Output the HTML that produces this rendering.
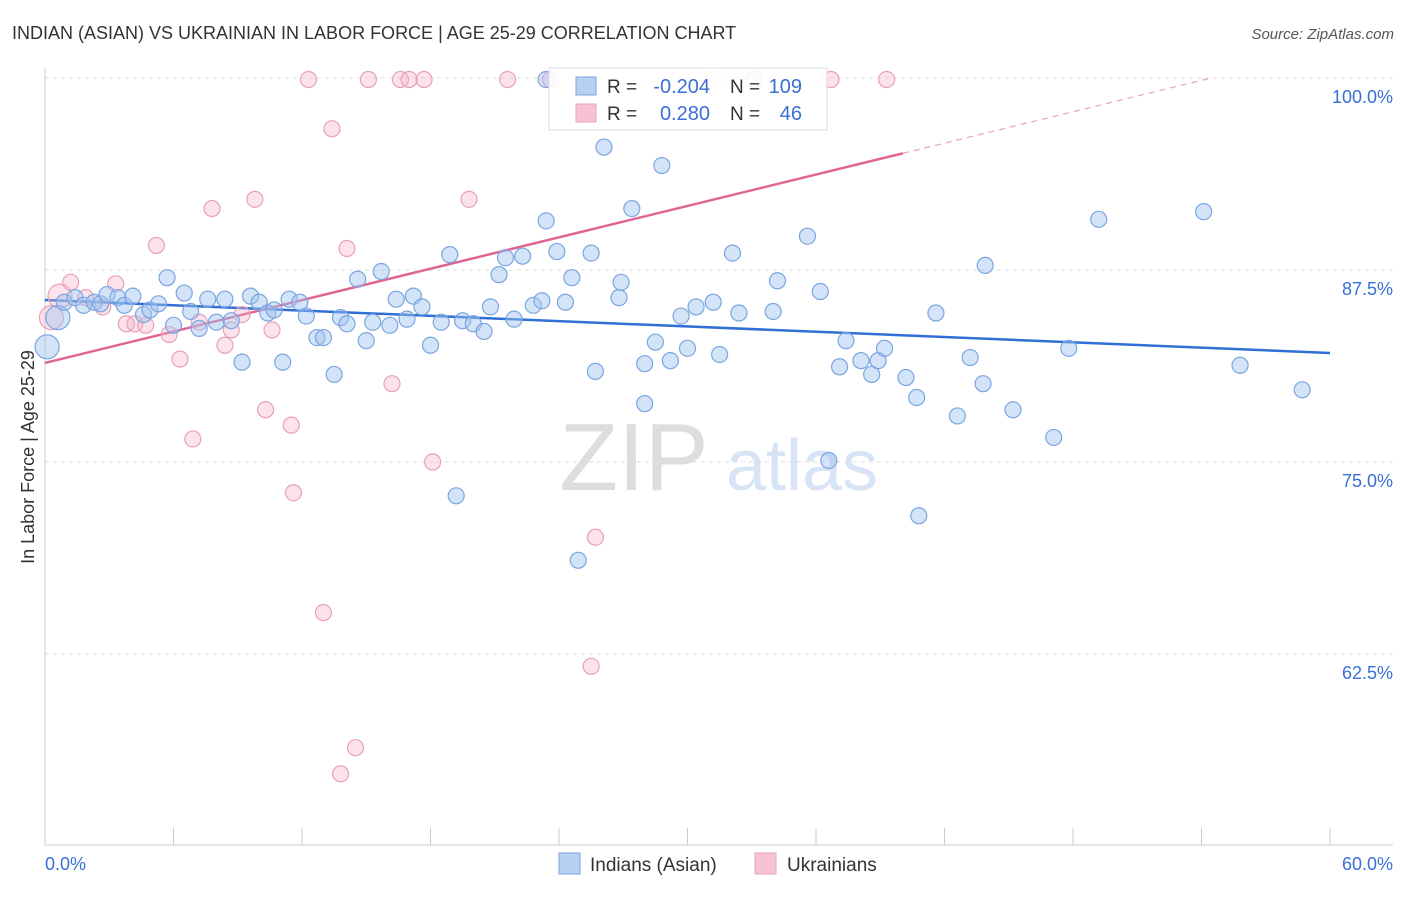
<!DOCTYPE html>
<html><head><meta charset="utf-8"><style>
body{margin:0;background:#fff;font-family:"Liberation Sans",sans-serif;}
svg text{font-family:"Liberation Sans",sans-serif;}
</style></head><body>
<svg width="1406" height="892" xmlns="http://www.w3.org/2000/svg">
<text x="12" y="39" font-size="18" fill="#333">INDIAN (ASIAN) VS UKRAINIAN IN LABOR FORCE | AGE 25-29 CORRELATION CHART</text>
<text x="1394" y="39" font-size="15" fill="#555" text-anchor="end" font-style="italic">Source: ZipAtlas.com</text>
<g><text x="634" y="490" font-size="96" fill="#ddd" text-anchor="middle" font-family="Liberation Serif">ZIP</text><text x="802" y="490" font-size="72" fill="#d6e4f5" text-anchor="middle">atlas</text></g>
<g id="grid"></g><g id="axes"></g><g id="lines"></g><g id="pts"></g>
<text transform="translate(34,457) rotate(-90)" font-size="18" fill="#333" text-anchor="middle">In Labor Force | Age 25-29</text>
<g>
<rect x="549" y="68" width="278" height="62" fill="#fff" fill-opacity="0.9" stroke="#ddd"/>
<rect x="576" y="77" width="20" height="18" fill="#b8d1f3" stroke="#7aa5e0"/>
<rect x="576" y="104" width="20" height="18" fill="#f7c3d3" stroke="#e8a0b8"/>
<text x="607" y="93" font-size="19" fill="#333">R =</text>
<text x="710" y="93" font-size="20" fill="#3a6fd8" text-anchor="end">-0.204</text>
<text x="730" y="93" font-size="19" fill="#333">N =</text>
<text x="802" y="93" font-size="20" fill="#3a6fd8" text-anchor="end">109</text>
<text x="607" y="120" font-size="19" fill="#333">R =</text>
<text x="710" y="120" font-size="20" fill="#3a6fd8" text-anchor="end">0.280</text>
<text x="730" y="120" font-size="19" fill="#333">N =</text>
<text x="802" y="120" font-size="20" fill="#3a6fd8" text-anchor="end">46</text>
</g>
<g>
<rect x="559" y="853" width="21" height="21" fill="#b8d1f3" stroke="#7aa5e0"/>
<text x="590" y="871" font-size="19" fill="#333">Indians (Asian)</text>
<rect x="755" y="853" width="21" height="21" fill="#f7c3d3" stroke="#e8a0b8"/>
<text x="787" y="871" font-size="19" fill="#333">Ukrainians</text>
</g>
</svg>
<script>
const yTicks=[100,87.5,75,62.5];
const yTickLabels=["100.0%","87.5%","75.0%","62.5%"];
const xTickLabels=["0.0%","60.0%"];
const blueX=[0.1,0.6,0.9,1.4,1.8,2.3,2.6,2.9,3.4,3.7,4.1,4.6,4.9,5.3,5.7,6.0,6.5,6.8,7.2,7.6,8.0,8.4,8.7,9.2,9.6,10.0,10.4,10.7,11.1,11.4,11.9,12.2,12.7,13.0,13.5,13.8,14.1,14.6,15.0,15.3,15.7,16.1,16.4,16.9,17.2,17.6,18.0,18.5,18.9,19.2,19.5,20.0,20.5,20.8,21.2,21.5,21.9,22.3,22.8,23.2,23.4,23.9,24.3,24.6,24.9,25.5,25.7,26.1,26.8,26.9,27.4,28.0,28.0,28.5,28.8,29.2,29.7,30.0,30.4,31.2,31.5,32.1,32.4,34.0,34.2,35.6,36.2,36.6,37.1,37.4,38.1,38.6,38.9,39.2,40.2,40.7,40.8,41.6,42.6,43.2,43.8,43.9,45.2,47.1,47.8,49.2,54.1,55.8,58.7,23.4,33.1];
const blueY=[82.5,84.4,85.4,85.7,85.2,85.4,85.3,85.9,85.7,85.2,85.8,84.6,84.9,85.3,87.0,83.9,86.0,84.8,83.7,85.6,84.1,85.6,84.2,81.5,85.8,85.4,84.7,84.9,81.5,85.6,85.4,84.5,83.1,83.1,80.7,84.4,84.0,86.9,82.9,84.1,87.4,83.9,85.6,84.3,85.8,85.1,82.6,84.1,88.5,72.8,84.2,84.0,83.5,85.1,87.2,88.3,84.3,88.4,85.2,85.5,90.7,88.7,85.4,87.0,68.6,88.6,80.9,95.5,85.7,86.7,91.5,81.4,78.8,82.8,94.3,81.6,84.5,82.4,85.1,85.4,82.0,88.6,84.7,84.8,86.8,89.7,86.1,75.1,81.2,82.9,81.6,80.7,81.6,82.4,80.5,79.2,71.5,84.7,78.0,81.8,80.1,87.8,78.4,76.6,82.4,90.8,91.3,81.3,79.7,99.9,99.9];
const pinkX=[0.3,0.7,1.2,1.9,2.7,3.3,3.8,4.2,4.7,5.2,5.8,6.3,6.9,7.2,7.8,8.4,8.7,9.2,9.8,10.3,10.6,11.5,11.6,12.3,13.0,13.4,13.8,14.1,14.5,15.1,16.2,16.6,17.0,17.7,18.1,19.8,21.6,23.6,25.5,25.7,31.2,36.7,39.3];
const pinkY=[84.4,85.8,86.7,85.7,85.1,86.6,84.0,84.0,83.9,89.1,83.3,81.7,76.5,84.1,91.5,82.6,83.6,84.6,92.1,78.4,83.6,77.4,73.0,99.9,65.2,96.7,54.7,88.9,56.4,99.9,80.1,99.9,99.9,99.9,75.0,92.1,99.9,99.9,61.7,70.1,99.9,99.9,99.9];
const blueLine=[85.55,82.1];
const pinkLine=[81.45,0.3407];
const NS="http://www.w3.org/2000/svg";
const xS=v=>45+v/60*1285, yS=v=>78+(100-v)/12.5*192;
function mk(p,t,a){const e=document.createElementNS(NS,t);for(const k in a)e.setAttribute(k,a[k]);p.appendChild(e);return e;}
const grid=document.getElementById('grid'),axes=document.getElementById('axes'),lines=document.getElementById('lines'),pts=document.getElementById('pts');
yTicks.forEach((t,i)=>{const g=mk(grid,'line',{x1:45,x2:1393,y1:yS(t),y2:yS(t),stroke:'#ddd','stroke-dasharray':'4,4'});


const tx=mk(axes,'text',{x:1393,y:yS(t)+25,'font-size':18,fill:'#3a6fd8','text-anchor':'end'});tx.textContent=yTickLabels[i];

});
const ax=mk(axes,'line',{x1:45,x2:45,y1:68,y2:845,stroke:'#ccc'});


const bx=mk(axes,'line',{x1:45,x2:1393,y1:845,y2:845,stroke:'#ccc'});


for(let i=0;i<=10;i++){const t=mk(axes,'line',{x1:xS(i*6),x2:xS(i*6),y1:828,y2:845,stroke:'#ccc'});

}
[[0,'start',45],[60,'end',1393]].forEach((d,i)=>{const t=mk(axes,'text',{x:d[2],y:870,'font-size':18,fill:'#3a6fd8','text-anchor':d[1]});t.textContent=xTickLabels[i];

});
function addPts(X,Y,fill,stroke,name){X.forEach((x,i)=>{const big=x<0.8;const c=mk(pts,'circle',{cx:xS(x),cy:yS(Y[i]),r:big?12:8,fill:fill,stroke:stroke,'stroke-width':1.2});

});}
addPts(pinkX,pinkY,'rgba(245,175,198,0.35)','#e8a0b8','ukrainian-point');
addPts(blueX,blueY,'rgba(160,195,240,0.45)','#7aa5e0','indian-point');
const bl=mk(lines,'line',{x1:xS(0),y1:yS(blueLine[0]),x2:xS(60),y2:yS(blueLine[1]),stroke:'#2f6fd6','stroke-width':2.5});


const pe=40.06,px100=(100-pinkLine[0])/pinkLine[1];
const pl=mk(lines,'line',{x1:xS(0),y1:yS(pinkLine[0]),x2:xS(pe),y2:yS(pinkLine[0]+pinkLine[1]*pe),stroke:'#e06595','stroke-width':2.5});


const pd=mk(lines,'line',{x1:xS(pe),y1:yS(pinkLine[0]+pinkLine[1]*pe),x2:xS(px100),y2:yS(100),stroke:'#e9a0bc','stroke-width':1.2,'stroke-dasharray':'6,5'});


</script>
</body></html>
